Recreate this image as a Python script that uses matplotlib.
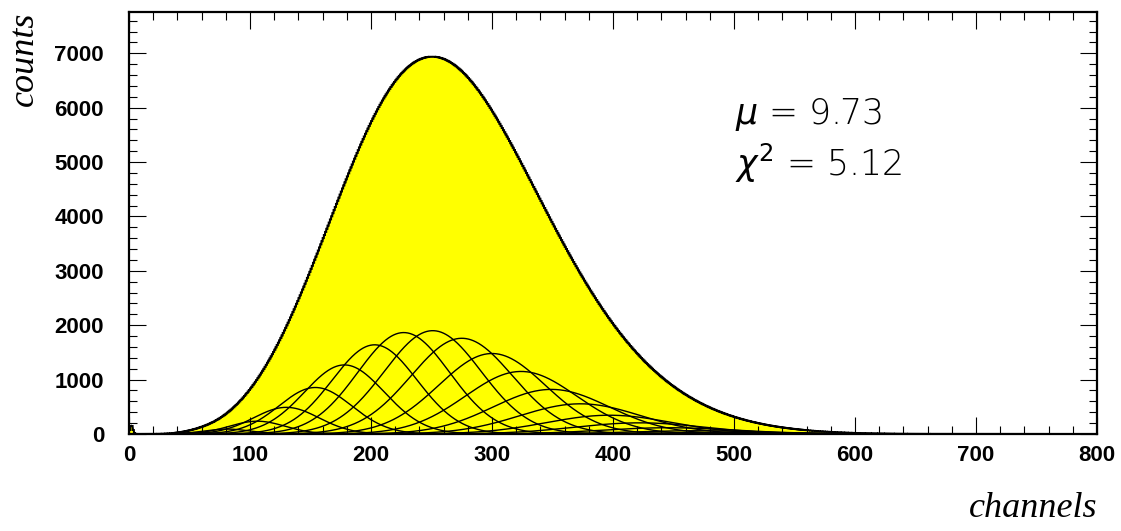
import numpy as np
import matplotlib
matplotlib.use("Agg")
import matplotlib.pyplot as plt
from matplotlib.ticker import MultipleLocator

# photoelectron peaks (pedestal first)
peak_channel = [2, 57, 81, 106, 130, 154, 178, 203, 227, 251, 275, 300, 324, 349, 373, 397, 422, 446, 470, 495, 519]
peak_height = [160, 25, 90, 235, 490, 855, 1270, 1640, 1865, 1900, 1760, 1480, 1150, 820, 555, 345, 205, 115, 60, 30, 15]
peak_sigma = [1.2, 13, 19, 23, 27, 30, 33, 35, 38, 40, 42, 44, 46, 48, 50, 52, 54, 55, 57, 58, 60]

mu_text = r"$\mu$ = 9.73"
chi_text = r"$\chi^2$ = 5.12"

bin_width = 1
n_channels = 800


def gauss(x, m, h, s):
    return h * np.exp(-0.5 * ((x - m) / s) ** 2)


x = np.linspace(0, n_channels, 1601)
comps = [gauss(x, m, h, s) for m, h, s in zip(peak_channel, peak_height, peak_sigma)]
fit = np.sum(comps, axis=0)

edges = np.arange(0, n_channels + bin_width, bin_width)
centers = 0.5 * (edges[1:] + edges[:-1])
counts = np.sum([gauss(centers, m, h, s) for m, h, s in zip(peak_channel, peak_height, peak_sigma)], axis=0)

fig = plt.figure(figsize=(11.21, 5.31), dpi=100)
ax = fig.add_axes([0.1151, 0.1827, 0.8635, 0.7947])

ax.stairs(counts, edges, fill=True, color="#ffff00", zorder=1)
ax.stairs(counts, edges, color="black", lw=1.4, zorder=1.5)
for c in comps[1:]:
    ax.plot(x, c, color="black", lw=1.0)
ax.plot(x, fit, color="black", lw=1.0)

ax.set_xlim(0, 800)
ax.set_ylim(0, 7760)
ax.xaxis.set_major_locator(MultipleLocator(100))
ax.xaxis.set_minor_locator(MultipleLocator(20))
ax.yaxis.set_major_locator(MultipleLocator(1000))
ax.yaxis.set_minor_locator(MultipleLocator(200))
ax.tick_params(which="both", direction="in", top=True, right=True, width=0.8)
ax.tick_params(which="major", length=12)
ax.tick_params(which="minor", length=6)
ax.tick_params(axis="y", pad=18)
ax.tick_params(axis="x", pad=8)
for lab in ax.get_xticklabels() + ax.get_yticklabels():
    lab.set_fontfamily("Liberation Sans")
    lab.set_fontweight("bold")
    lab.set_fontsize(16)
for sp in ax.spines.values():
    sp.set_linewidth(1.6)
ax.set_axisbelow(False)

fig.text(0.9786, 0.026, "channels", ha="right", va="baseline",
         family="Liberation Serif", style="italic", fontsize=26)
fig.text(0.022, 0.9774, "counts", ha="center", va="top", rotation=90,
         family="Liberation Serif", style="italic", fontsize=26)

ax.text(501, 5700, mu_text, fontsize=25, family="DejaVu Sans", fontweight="light")
ax.text(501, 4740, chi_text, fontsize=25, family="DejaVu Sans", fontweight="light")

fig.savefig("out.png", dpi=100)
